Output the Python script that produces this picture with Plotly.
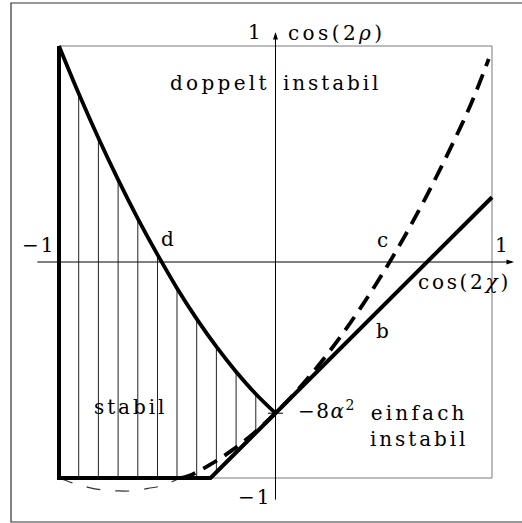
import plotly.graph_objects as go

# Boundary curve d (upper edge of the stable region), sampled on the hatch grid
curve_d_x = [-1.0, -0.909, -0.818, -0.727, -0.636, -0.545, -0.455, -0.364, -0.273, -0.182, -0.091, 0.0]
curve_d_y = [1.0, 0.78, 0.574, 0.381, 0.201, 0.034, -0.121, -0.263, -0.392, -0.508, -0.611, -0.70]

# Left edge, floor and straight boundary b
boundary_x = [-1.0, -1.0, -0.3, 0.0, 1.0]
boundary_y = [1.0, -1.0, -1.0, -0.7, 0.3]

# Dashed boundary c
curve_c_x = [-0.44, -0.40, -0.30, -0.20, -0.10, 0.00, 0.10, 0.20, 0.30, 0.40, 0.50, 0.60, 0.70, 0.80, 0.90, 0.985]
curve_c_y = [-1.00, -0.99, -0.937, -0.871, -0.792, -0.70, -0.595, -0.477, -0.346, -0.202, -0.045, 0.125, 0.31, 0.51, 0.725, 0.94]

# Continuation of c below the floor
arc_x = [-1.0, -0.93, -0.865, -0.795, -0.726, -0.657, -0.588, -0.526, -0.44]
arc_y = [-1.0, -1.025, -1.043, -1.056, -1.06, -1.059, -1.048, -1.036, -1.0]

# Vertical hatching of the stable region
hatch_x = [-0.909, -0.818, -0.727, -0.636, -0.545, -0.455, -0.364, -0.273, -0.182, -0.091]
hatch_top = [0.78, 0.574, 0.381, 0.201, 0.034, -0.121, -0.263, -0.392, -0.508, -0.611]
hatch_bottom = [-1.0, -1.0, -1.0, -1.0, -1.0, -1.0, -1.0, -0.973, -0.882, -0.791]

# Axis extents (start, arrow tip)
axis_x_span = [-1.1, 1.102]
axis_y_span = [-1.1, 1.065]

FONT = "DejaVu Serif"
SIZE = 20


def spaced(text, px):
    return f"<span style='letter-spacing:{px}px'>{text}</span>"


fig = go.Figure()

# frame of the unit square
fig.add_shape(type="rect", x0=-1, x1=1, y0=-1, y1=1,
              line=dict(color="#7a7a7a", width=1), layer="below")
# outer border of the figure
fig.add_shape(type="rect", x0=-1.2217, x1=1.25, y0=-1.2037, y1=1.199,
              line=dict(color="#333333", width=1.2), layer="below")

# coordinate axes
fig.add_trace(go.Scatter(x=[axis_x_span[0], axis_x_span[1] - 0.01], y=[0, 0], mode="lines",
                         line=dict(color="black", width=1), hoverinfo="skip"))
fig.add_trace(go.Scatter(x=[0, 0], y=[axis_y_span[0], axis_y_span[1] - 0.01], mode="lines",
                         line=dict(color="black", width=1), hoverinfo="skip"))
# arrow heads at the positive ends
fig.add_trace(go.Scatter(x=[axis_x_span[1]], y=[0], mode="markers",
                         marker=dict(symbol="arrow", angle=90, size=8, color="black",
                                     line=dict(width=0)), hoverinfo="skip"))
fig.add_trace(go.Scatter(x=[0], y=[axis_y_span[1]], mode="markers",
                         marker=dict(symbol="arrow", angle=0, size=8, color="black",
                                     line=dict(width=0)), hoverinfo="skip"))
# tick at -8 alpha^2
fig.add_shape(type="line", x0=-0.035, x1=0.035, y0=-0.7, y1=-0.7, line=dict(color="black", width=1))

# hatching
hx, hy = [], []
for x, top, bot in zip(hatch_x, hatch_top, hatch_bottom):
    hx += [x, x, None]
    hy += [bot, top, None]
fig.add_trace(go.Scatter(x=hx, y=hy, mode="lines", line=dict(color="#222222", width=1),
                         hoverinfo="skip"))

fig.add_trace(go.Scatter(x=arc_x, y=arc_y, mode="lines",
                         line=dict(color="#333333", width=1.2, dash="14px,15px", shape="spline")))
fig.add_trace(go.Scatter(x=curve_c_x, y=curve_c_y, mode="lines",
                         line=dict(color="black", width=3.8, dash="16px,9px", shape="spline")))
fig.add_trace(go.Scatter(x=curve_d_x, y=curve_d_y, mode="lines",
                         line=dict(color="black", width=3.8, shape="spline")))
fig.add_trace(go.Scatter(x=boundary_x, y=boundary_y, mode="lines",
                         line=dict(color="black", width=4)))

labels = [
    (spaced("doppelt", 3.3), -0.258, 0.83),
    (spaced("instabil", 2.9), 0.262, 0.83),
    (spaced("stabil", 2.9), -0.672, -0.671),
    (spaced("einfach", 3.2) + "<br>" + spaced("instabil", 2.9), 0.665, -0.76),
    (spaced("cos(2<i>ρ</i>)", 3.4), 0.28, 1.06),
    (spaced("cos(2<i>χ</i>)", 2.7), 0.872, -0.093),
    (spaced("−8<i>α</i><sup>2</sup>", 1.5), 0.24, -0.685),
    ("d", -0.501, 0.106),
    ("c", 0.492, 0.102),
    ("b", 0.492, -0.319),
    (spaced("−1", 2), -1.095, 0.079),
    ("1", 1.042, 0.079),
    ("1", -0.095, 1.065),
    (spaced("−1", 2), -0.095, -1.088),
]
for text, x, y in labels:
    fig.add_annotation(x=x, y=y, xref="x", yref="y", text=text, showarrow=False,
                       xanchor="center", yanchor="middle", align="center",
                       font=dict(family=FONT, size=SIZE, color="black"))

fig.update_layout(
    width=522, height=523, autosize=False,
    margin=dict(l=0, r=0, t=0, b=0),
    paper_bgcolor="white", plot_bgcolor="white",
    showlegend=False,
    xaxis=dict(range=[-1.2725, 1.1386], visible=False, fixedrange=True),
    yaxis=dict(range=[-1.2083, 1.213], visible=False, fixedrange=True),
)

fig.write_html("out.html")
